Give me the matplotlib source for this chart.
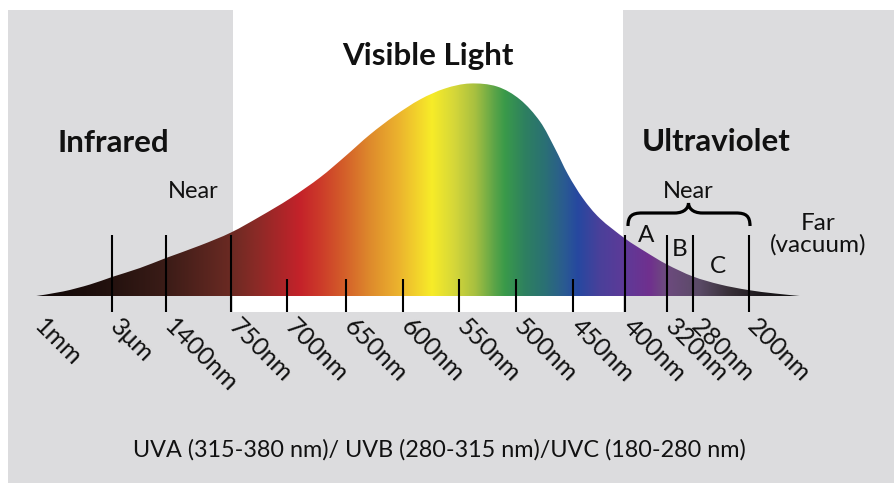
import numpy as np
import matplotlib
matplotlib.use("Agg")
import matplotlib.pyplot as plt
from matplotlib.colors import LinearSegmentedColormap, to_rgb
from matplotlib.path import Path
from matplotlib.patches import PathPatch, Rectangle

# ---------------- data ----------------
# spectrum outline: position along the band and height of the curve
curve_pos = [33, 63, 90, 112, 140, 166, 200, 231, 260, 290, 320, 345, 370,
             395, 420, 445, 470, 497, 520, 540, 555, 568, 583, 600, 625, 645,
             667, 693, 720, 748, 775, 805]
curve_height = [0, 5, 12, 19.5, 28.5, 38.5, 51, 64, 80, 98, 119, 140, 162,
                181, 197, 208, 213, 210, 197, 175, 148, 122, 98, 78, 58, 45,
                32, 20, 12, 6.5, 3, 0]

tick_labels = ["1mm", "3\u03bcm", "1400nm", "750nm", "700nm", "650nm", "600nm",
               "550nm", "500nm", "450nm", "400nm", "320nm", "280nm", "200nm"]
tick_pos = [36, 112, 166, 231, 287, 346, 403, 459, 516, 573, 625, 667, 693, 749]
tick_kind = ["none", "long", "long", "long", "short", "short", "short",
             "short", "short", "short", "long", "long", "long", "long"]

# colour of the band along its length
color_pos = [33, 80, 112, 166, 231, 260, 300, 320, 345, 370, 400, 425, 432,
             455, 475, 495, 505, 525, 545, 565, 578, 600, 625, 650, 665, 700,
             730, 760, 805]
color_hex = ["#0d0606", "#1a0c0a", "#24120f", "#3b1c17", "#6b2a23", "#8f2a27",
             "#c4222a", "#cc3a29", "#d4602a", "#de8a2c", "#ecb52e", "#f5e02a",
             "#f7ec28", "#d4d63a", "#a8c040", "#5aa448", "#3a9a4a", "#2e8060",
             "#2a7074", "#2a5a92", "#2648a0", "#4a409a", "#5e3a98", "#70308e",
             "#6e4a80", "#5a4a66", "#383038", "#1e1a1e", "#101010"]

W, H = 894, 483
BASE = 296.5
GREY = "#dcdcde"
FONT = ["Lato", "DejaVu Sans"]
INK = "#111111"

fig = plt.figure(figsize=(W / 100, H / 100), dpi=100)
ax = fig.add_axes([0, 0, 1, 1])
ax.axis("off")

# background panels
ax.add_patch(Rectangle((8, 10), W - 8, H - 10, facecolor=GREY, edgecolor="none", zorder=0))
ax.add_patch(Rectangle((233, 10), 623 - 233, 312 - 10, facecolor="white", edgecolor="none", zorder=0.5))

# smooth outline through the points (Catmull-Rom -> Bezier)
px = np.array(curve_pos, float)
py = BASE - np.array(curve_height, float)
verts = [(px[0], py[0])]
codes = [Path.MOVETO]
n = len(px)
for i in range(n - 1):
    p0 = np.array([px[max(i - 1, 0)], py[max(i - 1, 0)]])
    p1 = np.array([px[i], py[i]])
    p2 = np.array([px[i + 1], py[i + 1]])
    p3 = np.array([px[min(i + 2, n - 1)], py[min(i + 2, n - 1)]])
    c1 = p1 + (p2 - p0) / 6.0
    c2 = p2 - (p3 - p1) / 6.0
    verts += [tuple(c1), tuple(c2), tuple(p2)]
    codes += [Path.CURVE4] * 3
verts += [(px[-1], BASE), (px[0], BASE), (px[0], py[0])]
codes += [Path.LINETO, Path.LINETO, Path.CLOSEPOLY]
outline = PathPatch(Path(verts, codes), facecolor="none", edgecolor="none")
ax.add_patch(outline)

lo, hi = color_pos[0], color_pos[-1]
stops = [((p - lo) / (hi - lo), to_rgb(c)) for p, c in zip(color_pos, color_hex)]
cmap = LinearSegmentedColormap.from_list("spec", stops, N=1024)
grad = np.linspace(0, 1, 1024)[None, :]
im = ax.imshow(grad, cmap=cmap, extent=(lo, hi, BASE, 60), aspect="auto",
               interpolation="bilinear", zorder=1)
im.set_clip_path(outline)

# ticks and labels
for x, lab, kind in zip(tick_pos, tick_labels, tick_kind):
    if kind == "long":
        ax.plot([x, x], [235, 312], color="black", lw=1.5, zorder=3, solid_capstyle="butt")
    elif kind == "short":
        ax.plot([x, x], [279, 312], color="black", lw=1.5, zorder=3, solid_capstyle="butt")
    ax.text(x + 10, 315, lab, rotation=-45, rotation_mode="anchor", ha="left", va="top",
            fontsize=18, family=FONT, color=INK, zorder=4)

# headings
ax.text(427.5, 65, "Visible Light", ha="center", va="baseline", fontsize=22.5,
        fontweight="bold", family=FONT, color=INK)
ax.text(57, 152, "Infrared", ha="left", va="baseline", fontsize=22.5,
        fontweight="bold", family=FONT, color=INK)
ax.text(642, 151, "Ultraviolet", ha="left", va="baseline", fontsize=22.5,
        fontweight="bold", family=FONT, color=INK)
ax.text(193, 198, "Near", ha="center", va="baseline", fontsize=17, family=FONT, color=INK)
ax.text(688, 198, "Near", ha="center", va="baseline", fontsize=17, family=FONT, color=INK)
ax.text(646, 242, "A", ha="center", va="baseline", fontsize=17.5, family=FONT, color=INK)
ax.text(679.5, 256, "B", ha="center", va="baseline", fontsize=17.5, family=FONT, color=INK)
ax.text(718, 273, "C", ha="center", va="baseline", fontsize=17.5, family=FONT, color=INK)
ax.text(818, 230, "Far", ha="center", va="baseline", fontsize=17.5, family=FONT, color=INK)
ax.text(818, 252, "(vacuum)", ha="center", va="baseline", fontsize=17.5, family=FONT, color=INK)
ax.text(439, 457, "UVA (315-380 nm)/ UVB (280-315 nm)/UVC (180-280 nm)", ha="center",
        va="baseline", fontsize=16.8, family=FONT, color=INK)

# curly brace over the near-UV bands
bx0, bx1, bcx, by = 628, 750, 688.5, 213
bv = [(bx0, 226), (bx0, 216), (bx0 + 4, by), (bx0 + 14, by),
      (bcx - 14, by), (bcx - 3, by), (bcx, 207), (bcx, 203)]
bc = [Path.MOVETO, Path.CURVE4, Path.CURVE4, Path.CURVE4,
      Path.LINETO, Path.CURVE4, Path.CURVE4, Path.CURVE4]
bv += [(bcx, 207), (bcx + 3, by), (bcx + 14, by),
       (bx1 - 14, by), (bx1 - 4, by), (bx1, 216), (bx1, 226)]
bc += [Path.CURVE4, Path.CURVE4, Path.CURVE4,
       Path.LINETO, Path.CURVE4, Path.CURVE4, Path.CURVE4]
ax.add_patch(PathPatch(Path(bv, bc), facecolor="none", edgecolor="black", lw=2.3,
                       capstyle="butt", zorder=3))

ax.set_xlim(0, W)
ax.set_ylim(H, 0)
fig.savefig("out.png", dpi=100, facecolor="white")
